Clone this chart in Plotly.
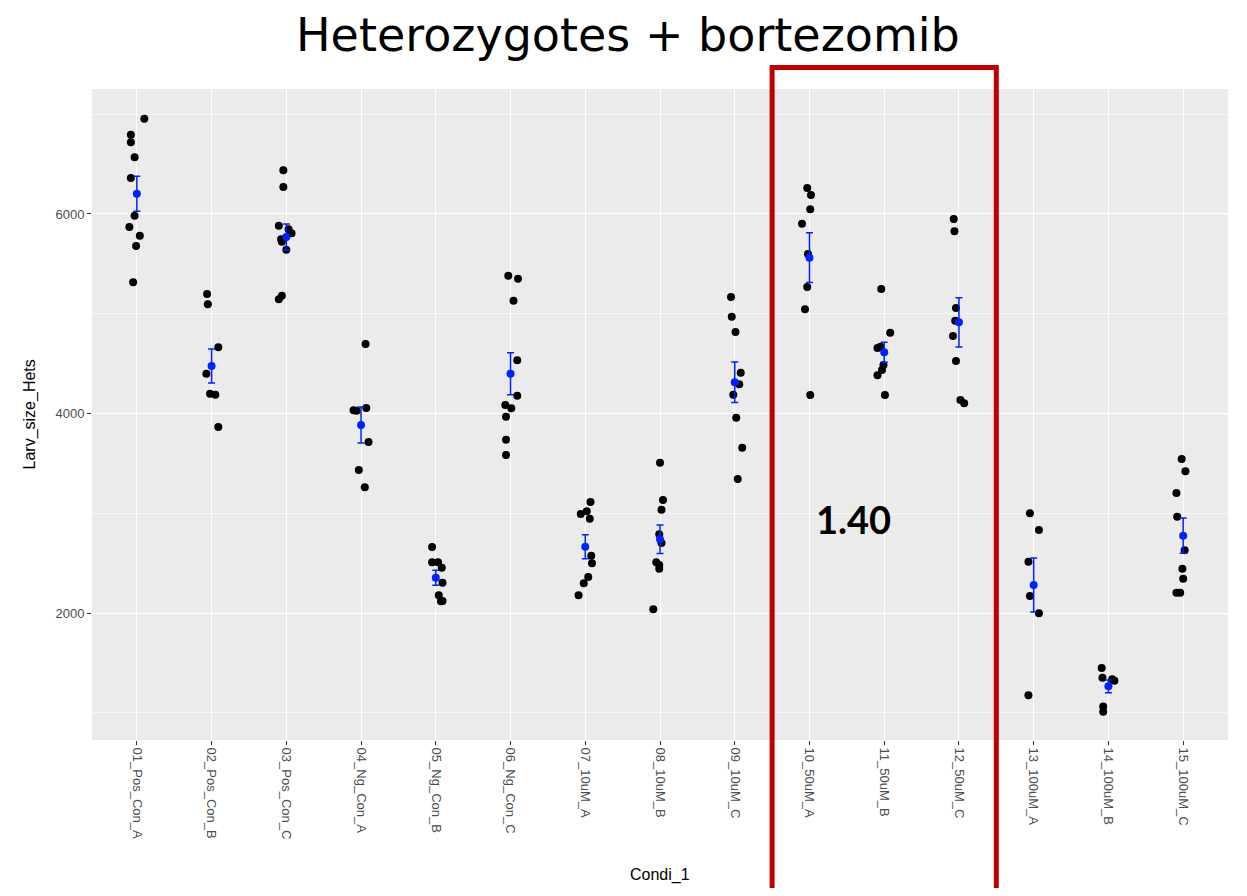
import plotly.graph_objects as go

# condition labels on the x axis
conditions = ['01_Pos_Con_A', '02_Pos_Con_B', '03_Pos_Con_C', '04_Ng_Con_A', '05_Ng_Con_B',
              '06_Ng_Con_C', '07_10uM_A', '08_10uM_B', '09_10uM_C', '10_50uM_A',
              '11_50uM_B', '12_50uM_C', '13_100uM_A', '14_100uM_B', '15_100uM_C']

# larval sizes per condition
sizes = [
    [6955, 6795, 6719, 6568, 6361, 5983, 5870, 5782, 5679, 5315],
    [5198, 5095, 4664, 4399, 4198, 4188, 3865],
    [6438, 6271, 5883, 5847, 5807, 5746, 5722, 5642, 5181, 5145],
    [4697, 4032, 4028, 4055, 3714, 3434, 3260],
    [2662, 2508, 2508, 2454, 2304, 2177, 2117, 2120],
    [5380, 5350, 5130, 4533, 4178, 4085, 4052, 3968, 3737, 3584],
    [3113, 2993, 3019, 2945, 2575, 2498, 2361, 2298, 2177],
    [3507, 3133, 3036, 2789, 2702, 2508, 2481, 2444, 2037],
    [5168, 4971, 4817, 4409, 4293, 4188, 3958, 3657, 3343],
    [6261, 6190, 6047, 5903, 5599, 5268, 5045, 4185],
    [5248, 4810, 4657, 4670, 4486, 4436, 4383, 4185],
    [5950, 5826, 5058, 4930, 4777, 4526, 4135, 4102],
    [2999, 2832, 2514, 2170, 1997, 1175],
    [1449, 1351, 1335, 1321, 1064, 1010],
    [3544, 3420, 3203, 2966, 2629, 2444, 2344, 2204, 2204],
]

# horizontal jitter of each point (category units)
jitter = [
    [0.10, -0.08, -0.08, -0.03, -0.08, -0.03, -0.10, 0.04, -0.01, -0.05],
    [-0.06, -0.05, 0.09, -0.07, -0.02, 0.05, 0.09],
    [-0.04, -0.04, -0.10, 0.03, 0.07, -0.07, -0.06, 0.00, -0.06, -0.10],
    [0.06, -0.10, -0.06, 0.07, 0.10, -0.03, 0.05],
    [-0.05, -0.05, 0.03, 0.08, 0.09, 0.04, 0.07, 0.09],
    [-0.03, 0.10, 0.04, 0.09, 0.09, -0.07, 0.01, -0.06, -0.06, -0.06],
    [0.07, -0.06, 0.02, 0.06, 0.08, 0.09, 0.04, -0.02, -0.09],
    [0.00, 0.04, 0.02, -0.01, 0.02, -0.05, -0.01, -0.01, -0.09],
    [-0.05, -0.04, 0.01, 0.08, 0.06, -0.02, 0.02, 0.10, 0.04],
    [-0.03, 0.02, 0.01, -0.10, -0.02, -0.03, -0.06, 0.01],
    [-0.04, 0.08, -0.09, -0.05, -0.01, -0.03, -0.09, 0.01],
    [-0.07, -0.06, -0.04, -0.05, -0.08, -0.04, 0.02, 0.07],
    [-0.05, 0.07, -0.07, -0.05, 0.07, -0.07],
    [-0.09, -0.08, 0.05, 0.08, -0.07, -0.07],
    [-0.02, 0.03, -0.09, -0.08, 0.02, -0.01, 0.00, -0.09, -0.04],
]

# summary (mean +/- se) shown in blue
means = [6203, 4476, 5769, 3885, 2354, 4399, 2665, 2739, 4313, 5562, 4614, 4914, 2281, 1265, 2775]
errors = [175, 170, 130, 180, 75, 210, 120, 143, 203, 250, 100, 247, 270, 64, 177]

#flatten points
px, py = [], []
for i, (vals, jit) in enumerate(zip(sizes, jitter)):
    for v, j in zip(vals, jit):
        px.append(i + j)
        py.append(v)

fig = go.Figure()

fig.add_trace(go.Scatter(
    x=px, y=py, mode='markers',
    marker=dict(color='black', size=8),
    showlegend=False, hoverinfo='y',
))

fig.add_trace(go.Scatter(
    x=list(range(len(conditions))), y=means, mode='markers',
    marker=dict(color='#0022FF', size=8),
    error_y=dict(type='data', array=errors, color='#0022FF', thickness=1.5, width=3.5),
    showlegend=False,
))

grey = '#4D4D4D'
# page body has an 8px margin, so the figure is a bit smaller and shifted
fig.update_layout(
    width=1231, height=880,
    margin=dict(l=84, r=11, t=81, b=148),
    plot_bgcolor='#EBEBEB', paper_bgcolor='white',
    font=dict(family='Liberation Sans, Arial, sans-serif'),
    xaxis=dict(
        range=[-0.6, 14.6],
        tickmode='array', tickvals=list(range(len(conditions))), ticktext=conditions,
        tickangle=90, tickfont=dict(size=13, color=grey),
        ticks='outside', ticklen=4, tickcolor='#333333',
        showgrid=True, gridcolor='white', gridwidth=1.2, zeroline=False,
    ),
    yaxis=dict(
        range=[727, 7253],
        tickmode='linear', tick0=0, dtick=2000,
        tickfont=dict(size=13, color=grey),
        ticks='outside', ticklen=4, tickcolor='#333333',
        showgrid=True, gridcolor='white', gridwidth=1.2, zeroline=False,
        minor=dict(tick0=1000, dtick=2000, showgrid=True, gridcolor='#F7F7F7', gridwidth=0.6, ticks=''),
    ),
    annotations=[
        dict(text='Heterozygotes + bortezomib', xref='paper', yref='paper', x=0.472, y=1.083,
             showarrow=False, xanchor='center', yanchor='middle',
             font=dict(family='DejaVu Sans', size=46, color='black')),
        dict(text='Larv_size_Hets', xref='paper', yref='paper', x=-0.0546, y=0.5, textangle=-90,
             showarrow=False, xanchor='center', yanchor='middle', font=dict(size=16, color='black')),
        dict(text='Condi_1', xref='paper', yref='paper', x=0.5, y=-0.207,
             showarrow=False, xanchor='center', yanchor='middle', font=dict(size=16, color='black')),
        dict(text='<b>1.40</b>', xref='x', yref='y', x=9.59, y=2942,
             showarrow=False, xanchor='center', yanchor='middle',
             font=dict(family='Lato', size=38, color='black')),
    ],
    shapes=[
        dict(type='rect', xref='x', yref='paper', x0=8.5, x1=11.5, y0=-0.3, y1=1.033,
             line=dict(color='#C00000', width=5), fillcolor='rgba(0,0,0,0)'),
    ],
)

fig.write_html("out.html")
